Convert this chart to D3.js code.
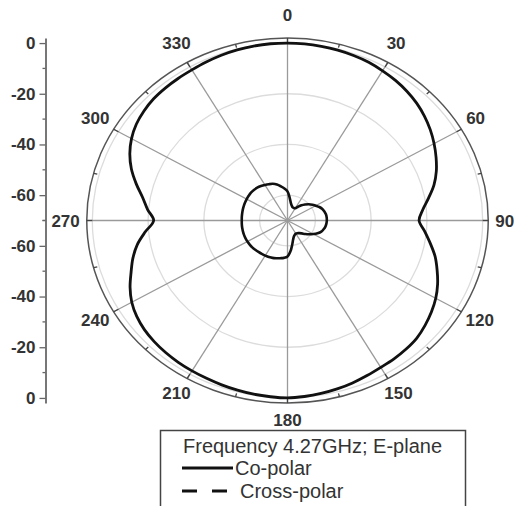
<!DOCTYPE html>
<html>
<head>
<meta charset="utf-8">
<script src="https://cdn.jsdelivr.net/npm/d3@7/dist/d3.min.js"></script>
<style>
  html, body { margin: 0; padding: 0; background: #fff; }
  svg { display: block; font-family: "Liberation Sans", Arial, sans-serif; }
</style>
</head>
<body>
<svg id="chart" width="519" height="506"></svg>
<script>
// Radiation pattern, E-plane at 4.27 GHz (normalised gain, dB)
const angles = d3.range(0, 360, 5);

const coPolar = [
  0, -0.05, -0.2, -0.4, -0.7, -1.1, -1.8, -2.5, -3.4, -4.5, -5.9, -7.5,
  -9.3, -11.2, -13.2, -15.6, -18.6, -21.3, -22.8, -20.6, -18.0, -15.2, -12.9, -10.6,
  -8.6, -7.0, -5.6, -4.4, -3.8, -3.4, -3.1, -2.5, -1.8, -1.2, -0.7, -0.3,
  0, -0.2, -0.4, -0.7, -1.0, -1.3, -1.5, -1.7, -2.0, -2.4, -3.0, -4.0,
  -5.5, -7.7, -10.3, -12.6, -15.3, -18.8, -22.0, -19.6, -17.2, -13.8, -10.4, -7.6,
  -5.4, -3.8, -2.8, -2.1, -1.8, -1.6, -1.4, -1.0, -0.6, -0.3, -0.1, 0
];

const crossPolar = [
  -58.5, -61.0, -63.0, -64.0, -64.5, -64.6, -64.4, -63.4, -62.2, -61.1, -60.0, -59.1,
  -58.3, -57.4, -56.7, -56.3, -56.0, -55.9, -55.9, -56.0, -56.2, -56.6, -57.1, -58.1,
  -59.3, -60.5, -61.7, -62.8, -63.5, -63.9, -64.0, -63.8, -63.3, -62.2, -60.3, -57.8,
  -55.8, -55.2, -54.9, -54.6, -54.3, -54.15, -54.0, -53.9, -53.8, -53.65, -53.5, -53.45,
  -53.4, -53.4, -53.4, -53.45, -53.5, -53.55, -53.6, -53.55, -53.5, -53.4, -53.3, -53.2,
  -53.1, -53.0, -52.9, -52.95, -53.1, -53.4, -53.8, -54.2, -54.6, -55.3, -56.3, -57.3
];

const angleTicks = d3.range(0, 360, 30);
const angleMinorTicks = d3.range(15, 360, 30);
const radialTicks = [0, -20, -40, -60];
const radialMinorTicks = [-10, -30, -50, -70];
const gridLevels = [0, -20, -40, -60];

const legendTitle = "Frequency 4.27GHz; E-plane";
const seriesNames = ["Co-polar", "Cross-polar"];

// ---- layout ----
const svg = d3.select("#chart");
const cx = 287.5, cy = 220.5;
const R = 182.5;        // vertical radius of the outer ring
const aspect = 1.1;     // horizontal stretch of the polar frame
const rScale = d3.scaleLinear().domain([-70, 2]).range([0, R]);
const rMax = rScale.domain()[1];

const toRad = d => d * Math.PI / 180;
const px = (a, v) => cx + aspect * rScale(v) * Math.sin(toRad(a));
const py = (a, v) => cy - rScale(v) * Math.cos(toRad(a));

// ---- grid ----
const grid = svg.append("g");
grid.selectAll("ellipse.lvl")
  .data(gridLevels)
  .join("ellipse")
  .attr("class", "lvl")
  .attr("cx", cx).attr("cy", cy)
  .attr("rx", d => aspect * rScale(d)).attr("ry", d => rScale(d))
  .attr("fill", "none").attr("stroke", "#dcdcdc").attr("stroke-width", 1.3);

grid.selectAll("line.spoke")
  .data(angleTicks)
  .join("line")
  .attr("class", "spoke")
  .attr("x1", cx).attr("y1", cy)
  .attr("x2", a => px(a, rMax)).attr("y2", a => py(a, rMax))
  .attr("stroke", "#9a9a9a").attr("stroke-width", 1.3);

// outer ring
svg.append("ellipse")
  .attr("cx", cx).attr("cy", cy)
  .attr("rx", aspect * R).attr("ry", R)
  .attr("fill", "none").attr("stroke", "#555").attr("stroke-width", 1.5);

// ring ticks (pointing inward)
const ringTick = (sel, data, len) => sel.selectAll(null)
  .data(data)
  .join("line")
  .attr("x1", a => px(a, rMax)).attr("y1", a => py(a, rMax))
  .attr("x2", a => px(a, rScale.invert(R - len))).attr("y2", a => py(a, rScale.invert(R - len)))
  .attr("stroke", "#444").attr("stroke-width", 1.3);
ringTick(svg.append("g"), angleTicks, 5);
ringTick(svg.append("g"), angleMinorTicks, 3.5);

// angle labels
svg.append("g").selectAll("text")
  .data(angleTicks)
  .join("text")
  .text(d => d)
  .attr("font-size", 17).attr("font-weight", "bold").attr("fill", "#333")
  .attr("text-anchor", "middle")
  .each(function (a) {
    const w = this.getComputedTextLength();
    const s = Math.sin(toRad(a)), c = Math.cos(toRad(a));
    const x = cx + s * (aspect * R + 7 + w / 2);
    const y = cy - c * (R + 20) - 3 * Math.abs(c);
    d3.select(this).attr("x", x).attr("y", y).attr("dy", "0.36em");
  });

// ---- radial axis on the left (mirrored about the centre) ----
const axisX = 45.5;
const yTop = d3.scaleLinear().domain(rScale.domain()).range([cy, cy - R]);
const yBot = d3.scaleLinear().domain(rScale.domain()).range([cy, cy + R]);

[yTop, yBot].forEach(ys => {
  const g = svg.append("g").attr("transform", `translate(${axisX},0)`);
  g.call(d3.axisLeft(ys)
    .tickValues(radialTicks)
    .tickFormat(d => String(d))
    .tickSize(6).tickSizeOuter(0).tickPadding(4));
  g.select(".domain").attr("stroke", "#777").attr("stroke-width", 2);
  g.selectAll(".tick line").attr("stroke", "#666").attr("stroke-width", 1.3);
  g.selectAll(".tick text")
    .attr("font-family", "Liberation Sans, Arial, sans-serif")
    .attr("font-size", 17).attr("font-weight", "bold").attr("fill", "#333");
  g.selectAll("line.minor")
    .data(radialMinorTicks)
    .join("line")
    .attr("class", "minor")
    .attr("x1", -3).attr("x2", 0)
    .attr("y1", d => ys(d)).attr("y2", d => ys(d))
    .attr("stroke", "#666").attr("stroke-width", 1.3);
});

// ---- pattern curves ----
const line = d3.line()
  .x(d => px(d[0], d[1]))
  .y(d => py(d[0], d[1]))
  .curve(d3.curveCatmullRomClosed.alpha(0.5));

svg.append("path")
  .datum(angles.map((a, i) => [a, coPolar[i]]))
  .attr("d", line)
  .attr("fill", "none").attr("stroke", "#111").attr("stroke-width", 2.8);

svg.append("path")
  .datum(angles.map((a, i) => [a, crossPolar[i]]))
  .attr("d", line)
  .attr("fill", "none").attr("stroke", "#111").attr("stroke-width", 2.6);

// ---- legend ----
const lg = svg.append("g");
lg.append("rect")
  .attr("x", 160.5).attr("y", 430.5).attr("width", 305).attr("height", 90)
  .attr("fill", "#fff").attr("stroke", "#444").attr("stroke-width", 1.5);
lg.append("text")
  .attr("x", 183).attr("y", 453)
  .attr("font-size", 20).attr("fill", "#333")
  .text(legendTitle);
lg.append("line")
  .attr("x1", 182).attr("x2", 233).attr("y1", 468).attr("y2", 468)
  .attr("stroke", "#111").attr("stroke-width", 3);
lg.append("text")
  .attr("x", 235).attr("y", 475)
  .attr("font-size", 20).attr("fill", "#333")
  .text(seriesNames[0]);
lg.append("line")
  .attr("x1", 182).attr("x2", 227).attr("y1", 491).attr("y2", 491)
  .attr("stroke", "#111").attr("stroke-width", 3).attr("stroke-dasharray", "15,15");
lg.append("text")
  .attr("x", 240).attr("y", 498)
  .attr("font-size", 20).attr("fill", "#333")
  .text(seriesNames[1]);
</script>
</body>
</html>
